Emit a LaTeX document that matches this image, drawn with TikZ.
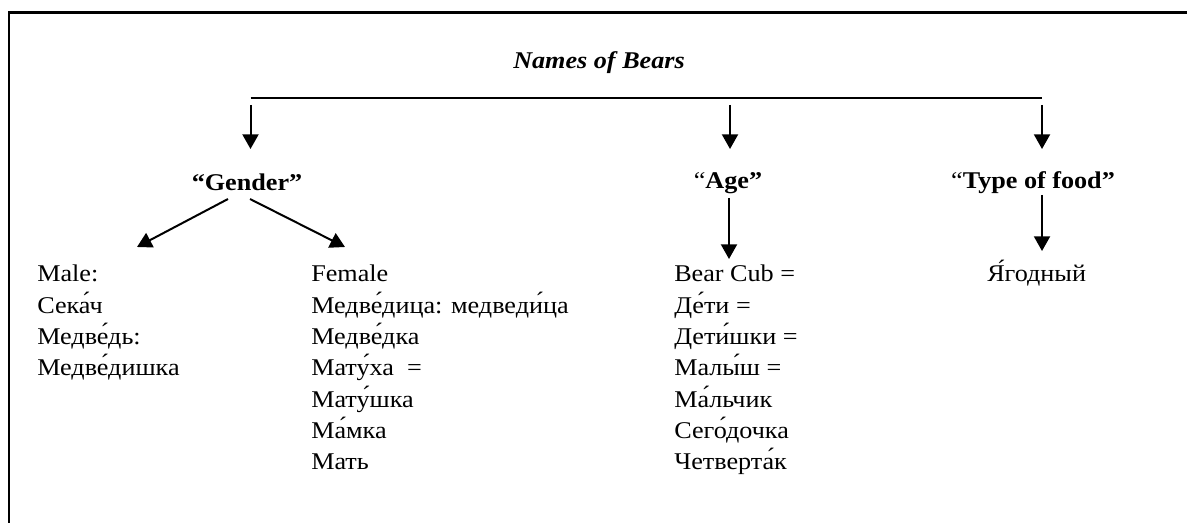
\documentclass[tikz,border=0pt]{standalone}
\usepackage{fontspec}
\setmainfont{Liberation Serif}[FakeStretch=1.09]
\usetikzlibrary{arrows.meta}
\begin{document}
\begin{tikzpicture}[x=0.75pt,y=-0.75pt,
  txt/.style={inner sep=0pt, font=\fontsize{18}{23.5}\selectfont},
  head/.style={inner sep=0pt, font=\fontsize{18}{23.5}\selectfont\bfseries},
  conn/.style={line width=1.2pt},
  arr/.style={line width=1.5pt, -{Triangle[width=12pt,length=11pt]}},
  frame/.style={line width=2.2pt}]
\useasboundingbox (0,0) rectangle (1187,523);
% frame (right and bottom sides lie outside the picture)
\draw[frame] (9,540) -- (9,12.5) -- (1200,12.5);
% title and top bar
\node[inner sep=0pt, font=\fontsize{18}{23.5}\selectfont\bfseries\itshape, anchor=base] (title) at (599,69) {Names of Bears};
\coordinate (L) at (250.5,98);
\coordinate (M) at (730,98);
\coordinate (R) at (1042,98);
\draw[conn] (L) -- (R);
\coordinate (t1) at (250.5,149);
\coordinate (t2) at (730,149);
\coordinate (t3) at (1042,149);
\draw[arr] (L) ++(0,7) -- (t1);
\draw[arr] (M) ++(0,7) -- (t2);
\draw[arr] (R) ++(0,7) -- (t3);
% headings
\node[head, anchor=base] (gender) at (247,191) {“Gender”};
\node[head, anchor=base] (age) at (728,189) {{\mdseries “}Age”};
\node[head, anchor=base] (food) at (1033,189) {{\mdseries “}Type of food”};
% second level arrows
\coordinate (g1) at (228,199);
\coordinate (g2) at (250,199);
\coordinate (gm) at (137,247);
\coordinate (gf) at (345,247);
\draw[arr] (g1) -- (gm);
\draw[arr] (g2) -- (gf);
\coordinate (a1) at (729,198);
\coordinate (a2) at (729,259);
\draw[arr] (a1) -- (a2);
\coordinate (f1) at (1042,195);
\coordinate (f2) at (1042,251);
\draw[arr] (f1) -- (f2);
% lists
\node[txt, anchor=base west] (male) at (37,282) {\begin{tabular}[t]{@{}l@{}}Male:\\ Сека́ч\\ Медве́дь:\\ Медве́дишка\end{tabular}};
\node[txt, anchor=base west] (female) at (311,282) {\begin{tabular}[t]{@{}l@{}}Female\\ Медве́дица: медведи́ца\\ Медве́дка\\ Мату́ха\ \ =\\ Мату́шка\\ Ма́мка\\ Мать\end{tabular}};
\node[txt, anchor=base west] (cub) at (674,282) {\begin{tabular}[t]{@{}l@{}}Bear Cub =\\ Де́ти =\\ Дети́шки =\\ Малы́ш =\\ Ма́льчик\\ Сего́дочка\\ Четверта́к\end{tabular}};
\node[txt, anchor=base west] (berry) at (987,282) {Я́годный};
\end{tikzpicture}
\end{document}
